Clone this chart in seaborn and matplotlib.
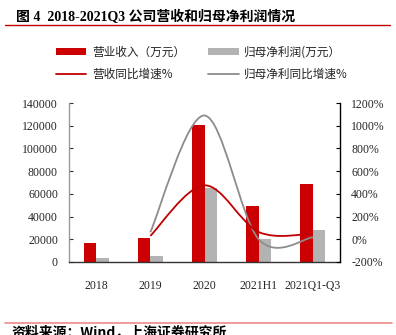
import numpy as np
import pandas as pd
import matplotlib
matplotlib.use("Agg")
import matplotlib.pyplot as plt
from matplotlib.path import Path
from matplotlib.patches import PathPatch, Patch
from matplotlib.lines import Line2D
import seaborn as sns

# ---- data ----
periods = ["2018", "2019", "2020", "2021H1", "2021Q1-Q3"]
revenue = [16500, 21100, 120500, 49500, 68400]          # 营业收入（万元）
net_profit = [3500, 5600, 65500, 20200, 28300]          # 归母净利润（万元）
growth_periods = ["2019", "2020", "2021H1", "2021Q1-Q3"]
revenue_yoy = [30, 475, 64, 50]                         # 营收同比增速 %
profit_yoy = [62, 1090, 0, 18]                          # 归母净利同比增速 %

RED = "#CC0000"
GREY_BAR = "#B3B3B3"
RED_LINE = "#C00000"
GREY_LINE = "#8C8C8C"

sns.set_style("white")
plt.rcParams["font.family"] = ["Liberation Serif", "Noto Sans CJK SC", "DejaVu Sans"]
CJK = ["Noto Sans CJK SC", "DejaVu Sans"]
MIXED = ["Liberation Serif", "Noto Sans CJK SC", "DejaVu Sans"]

fig = plt.figure(figsize=(3.96, 3.35), dpi=100)
ax = fig.add_axes([69 / 396, 1 - 262 / 335, 271 / 396, 159 / 335])

df = pd.DataFrame({
    "period": periods * 2,
    "value": revenue + net_profit,
    "series": ["营业收入（万元）"] * len(periods) + ["归母净利润(万元）"] * len(periods),
})
sns.barplot(data=df, x="period", y="value", hue="series", order=periods,
            palette=[RED, GREY_BAR], saturation=1, width=0.46,
            edgecolor="none", linewidth=0, legend=False, ax=ax)

ax.set_xlim(-0.5, len(periods) - 0.5)
ax.set_ylim(0, 140000)
ax.set_yticks(np.arange(0, 140001, 20000))
ax.set_yticklabels([f"{v:d}" for v in range(0, 140001, 20000)])
ax.set_xlabel("")
ax.set_ylabel("")
ax.tick_params(axis="y", direction="in", length=3, width=0.8, color="#333333",
               labelsize=8.5, pad=8)
ax.tick_params(axis="x", length=0, labelsize=8.5, pad=13)
for lab in ax.get_xticklabels() + ax.get_yticklabels():
    lab.set_fontfamily("Liberation Serif")
ax.spines["top"].set_visible(False)
ax.spines["right"].set_visible(False)
ax.spines["left"].set_color("#9A9A9A")
ax.spines["left"].set_linewidth(1.0)
ax.spines["bottom"].set_color("#333333")
ax.spines["bottom"].set_linewidth(1.0)

# ---- growth-rate axis ----
ax2 = ax.twinx()
ax2.set_ylim(-200, 1200)
ax2.set_yticks(np.arange(-200, 1201, 200))
ax2.set_yticklabels([f"{v:d}%" for v in range(-200, 1201, 200)])
ax2.tick_params(axis="y", direction="in", length=3, width=0.8, color="#000000",
                labelsize=8.5, pad=8)
for lab in ax2.get_yticklabels():
    lab.set_fontfamily("Liberation Serif")
for s in ("top", "left", "bottom"):
    ax2.spines[s].set_visible(False)
ax2.spines["right"].set_color("#000000")
ax2.spines["right"].set_linewidth(1.0)


def smooth_path(xs, ys):
    """Cubic Bezier path through the points (Catmull-Rom style smoothing)."""
    pts = np.column_stack([xs, ys]).astype(float)
    n = len(pts)
    verts = [pts[0]]
    codes = [Path.MOVETO]
    for i in range(n - 1):
        p0 = pts[i - 1] if i > 0 else pts[i]
        p1 = pts[i]
        p2 = pts[i + 1]
        p3 = pts[i + 2] if i + 2 < n else pts[i + 1]
        c1 = p1 + (p2 - p0) / 6.0
        c2 = p2 - (p3 - p1) / 6.0
        verts += [c1, c2, p2]
        codes += [Path.CURVE4] * 3
    return Path(verts, codes)


gx = [periods.index(p) for p in growth_periods]
ax2.add_patch(PathPatch(smooth_path(gx, profit_yoy), facecolor="none",
                        edgecolor=GREY_LINE, lw=1.3, capstyle="butt"))
ax2.add_patch(PathPatch(smooth_path(gx, revenue_yoy), facecolor="none",
                        edgecolor=RED_LINE, lw=1.3, capstyle="butt"))

# ---- legend ----
handles = [
    Patch(facecolor=RED, edgecolor="none"),
    Line2D([], [], color=RED_LINE, lw=1.3),
    Patch(facecolor=GREY_BAR, edgecolor="none"),
    Line2D([], [], color=GREY_LINE, lw=1.3),
]
labels = ["营业收入（万元）", "营收同比增速%", "归母净利润(万元）", "归母净利同比增速%"]
leg = fig.legend(handles, labels, ncol=2, loc="center",
                 bbox_to_anchor=(202 / 396, 1 - 63 / 335), frameon=False,
                 handlelength=2.6, handleheight=0.5, handletextpad=0.5,
                 columnspacing=2.0, labelspacing=0.8,
                 prop={"family": CJK, "size": 8.4})
for t in leg.get_texts():
    t.set_color("#222222")

# ---- title, rules and source ----
fig.text(16 / 396, 1 - 17 / 335, "图 4  2018-2021Q3 公司营收和归母净利润情况",
         ha="left", va="center", fontsize=10, fontweight="bold",
         family=MIXED, color="#000000")
fig.add_artist(Line2D([5 / 396, 390 / 396], [1 - 25 / 335, 1 - 25 / 335],
                      color="#C00000", lw=1.0))
fig.add_artist(Line2D([5 / 396, 392 / 396], [1 - 323 / 335, 1 - 323 / 335],
                      color="#F08A8A", lw=1.2))
fig.text(12 / 396, 1 - 325 / 335, "资料来源：Wind，上海证券研究所",
         ha="left", va="top", fontsize=10, fontweight="bold", style="italic",
         family=CJK, color="#000000")

fig.savefig("out.png", dpi=100)
